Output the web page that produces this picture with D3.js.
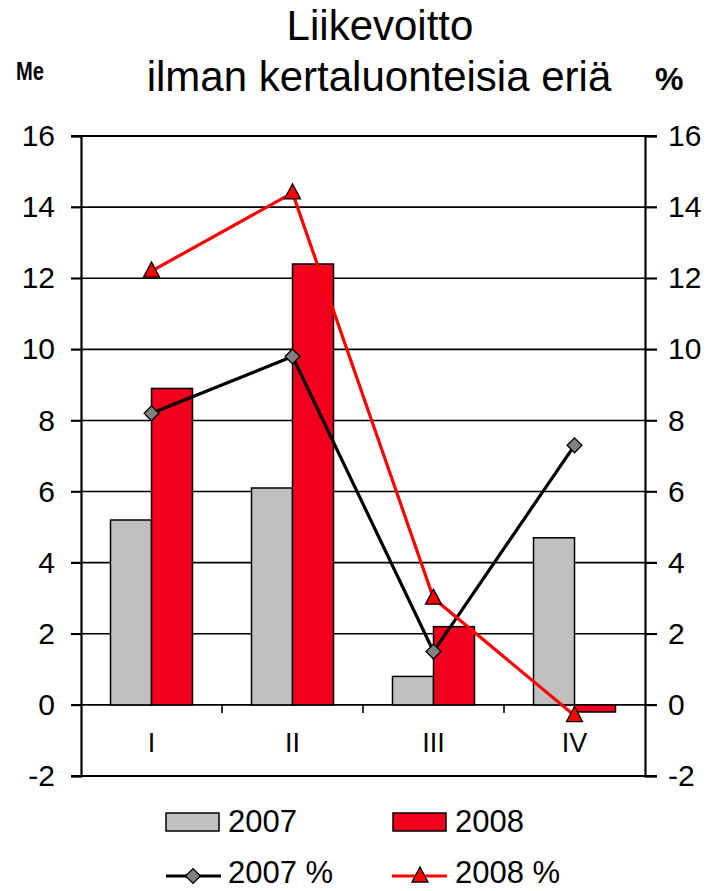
<!DOCTYPE html>
<html>
<head>
<meta charset="utf-8">
<script src="https://cdn.jsdelivr.net/npm/d3@7"></script>
<style>
  html, body { margin: 0; padding: 0; background: #fff; }
  svg { display: block; font-family: "Liberation Sans", Arial, sans-serif; }
</style>
</head>
<body>
<div id="chart"></div>
<script>
/* Quarterly operating profit (Me) as bars, margin (%) as lines. */

var quarters = ["I", "II", "III", "IV"];
var years = ["2007", "2008"];
var profit2007 = [5.2, 6.1, 0.8, 4.7];
var profit2008 = [8.9, 12.4, 2.2, -0.2];
var margin2007 = [8.2, 9.8, 1.5, 7.3];
var margin2008 = [12.2, 14.4, 3.0, -0.3];
var yTicks = [-2, 0, 2, 4, 6, 8, 10, 12, 14, 16];

var width = 716, height = 891;
var m = { top: 136, right: 71, bottom: 115, left: 81 };
var barColors = { "2007": "#c0c0c0", "2008": "#f0001c" };
var font = "'Liberation Sans', Arial, sans-serif";

var svg = d3.select("#chart").append("svg")
  .attr("width", width).attr("height", height)
  .attr("viewBox", "0 0 " + width + " " + height);

var x0 = d3.scaleBand().domain(quarters).range([m.left, width - m.right]);
var x1 = d3.scaleBand().domain(years).range([0, x0.bandwidth()]).paddingOuter(0.72);
var y = d3.scaleLinear().domain([-2, 16]).range([height - m.bottom, m.top]);

// title
var title = svg.append("text").attr("text-anchor", "middle").attr("font-size", 42).attr("fill", "#000");
title.append("tspan").attr("x", 380).attr("y", 40).text("Liikevoitto");
title.append("tspan").attr("x", 379).attr("y", 91).text("ilman kertaluonteisia eriä");

svg.append("text").attr("x", 16).attr("y", 80).attr("font-size", 25).attr("font-weight", 700)
  .attr("textLength", 28).attr("lengthAdjust", "spacingAndGlyphs").text("Me");
svg.append("text").attr("x", 655).attr("y", 90).attr("font-size", 32).attr("font-weight", 700).text("%");

// gridlines (extend past both axes like tick marks)
svg.append("g").selectAll("line").data(yTicks).enter().append("line")
  .attr("x1", m.left - 10).attr("x2", width - m.right + 12)
  .attr("y1", function (d) { return y(d); }).attr("y2", function (d) { return y(d); })
  .attr("stroke", "#000").attr("stroke-width", function (d) { return d === -2 || d === 16 ? 2 : 1.6; });

// bars
var groups = svg.append("g").selectAll("g").data(quarters).enter().append("g")
  .attr("transform", function (q) { return "translate(" + x0(q) + ",0)"; });

groups.selectAll("rect").data(function (q, i) {
  return [{ year: "2007", v: profit2007[i] }, { year: "2008", v: profit2008[i] }];
}).enter().append("rect")
  .attr("x", function (d) { return x1(d.year); })
  .attr("width", x1.bandwidth())
  .attr("y", function (d) { return y(Math.max(0, d.v)); })
  .attr("height", function (d) { return Math.abs(y(d.v) - y(0)); })
  .attr("fill", function (d) { return barColors[d.year]; })
  .attr("stroke", "#000").attr("stroke-width", 1.5);

// axes
var left = svg.append("g").attr("transform", "translate(" + m.left + ",0)")
  .call(d3.axisLeft(y).tickValues(yTicks).tickSize(10).tickPadding(16));
var right = svg.append("g").attr("transform", "translate(" + (width - m.right) + ",0)")
  .call(d3.axisRight(y).tickValues(yTicks).tickSize(12).tickPadding(11));
[left, right].forEach(function (a) {
  a.select(".domain").attr("stroke", "#000").attr("stroke-width", 2.2);
  a.selectAll(".tick line").attr("stroke", "#000").attr("stroke-width", 1.6);
  a.selectAll(".tick text").attr("font-size", 30).attr("fill", "#000").attr("font-family", font)
    .text(function (d) { return d < 0 ? "-" + Math.abs(d) : d; });
});

// category labels and ticks on the zero line
var xAxis = svg.append("g").attr("transform", "translate(0," + y(0) + ")")
  .call(d3.axisBottom(x0).tickSize(0).tickPadding(28));
xAxis.select(".domain").remove();
xAxis.selectAll(".tick text").attr("font-size", 27).attr("fill", "#000").attr("font-family", font);
svg.append("g").selectAll("line").data(quarters.slice(1)).enter().append("line")
  .attr("x1", function (q) { return x0(q); }).attr("x2", function (q) { return x0(q); })
  .attr("y1", y(0)).attr("y2", y(0) + 8)
  .attr("stroke", "#000").attr("stroke-width", 1.6);

// lines
var cx = function (i) { return x0(quarters[i]) + x0.bandwidth() / 2; };
var line = d3.line()
  .x(function (d, i) { return cx(i); })
  .y(function (d) { return y(d); });

svg.append("path").datum(margin2007).attr("d", line)
  .attr("fill", "none").attr("stroke", "#000").attr("stroke-width", 3.2);
svg.append("path").datum(margin2008).attr("d", line)
  .attr("fill", "none").attr("stroke", "#ff0000").attr("stroke-width", 3.2);

var diamond = d3.symbol().type(d3.symbolSquare).size(110);
var triangle = "M0,-9L8,6L-8,6Z";

svg.append("g").selectAll("path").data(margin2007).enter().append("path")
  .attr("d", diamond)
  .attr("transform", function (d, i) { return "translate(" + cx(i) + "," + y(d) + ") rotate(45)"; })
  .attr("fill", "#808080").attr("stroke", "#000").attr("stroke-width", 1.3);

svg.append("g").selectAll("path").data(margin2008).enter().append("path")
  .attr("d", triangle)
  .attr("transform", function (d, i) { return "translate(" + cx(i) + "," + y(d) + ")"; })
  .attr("fill", "#ff0000").attr("stroke", "#000").attr("stroke-width", 1.3);

// legend
var leg = svg.append("g").attr("font-size", 31).attr("fill", "#000");
var legBars = [
  { label: "2007", fill: barColors["2007"], x: 166 },
  { label: "2008", fill: barColors["2008"], x: 393 }
];
legBars.forEach(function (l) {
  leg.append("rect").attr("x", l.x).attr("y", 813).attr("width", 53).attr("height", 18)
    .attr("fill", l.fill).attr("stroke", "#000").attr("stroke-width", 1.5);
  leg.append("text").attr("x", l.x + 62).attr("y", 832).text(l.label);
});

var legLines = [
  { label: "2007 %", color: "#000", x: 166, marker: "diamond" },
  { label: "2008 %", color: "#ff0000", x: 392, marker: "triangle" }
];
legLines.forEach(function (l) {
  leg.append("line").attr("x1", l.x).attr("x2", l.x + 55).attr("y1", 876).attr("y2", 876)
    .attr("stroke", l.color).attr("stroke-width", 3.2);
  var mk = leg.append("path").attr("stroke", "#000").attr("stroke-width", 1.3);
  if (l.marker === "diamond") {
    mk.attr("d", diamond).attr("fill", "#808080")
      .attr("transform", "translate(" + (l.x + 27) + ",876) rotate(45)");
  } else {
    mk.attr("d", triangle).attr("fill", "#ff0000")
      .attr("transform", "translate(" + (l.x + 28) + ",876)");
  }
  leg.append("text").attr("x", l.x + 62 + (l.marker === "triangle" ? 1 : 0)).attr("y", 883).text(l.label);
});
</script>
</body>
</html>
